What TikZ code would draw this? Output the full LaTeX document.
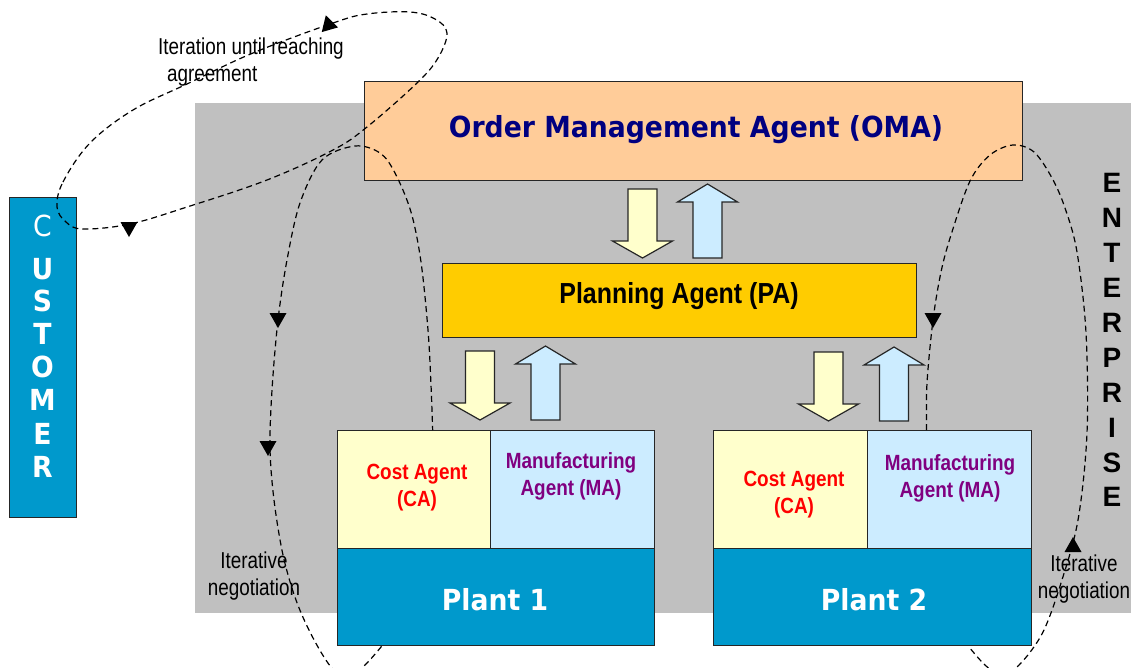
\documentclass[tikz,border=0pt]{standalone}
\usepackage{fontspec}
\setmainfont{Liberation Sans}
\newfontfamily\tahoma{DejaVu Sans}[FakeStretch=0.92]
\newfontfamily\narrowbold{Liberation Sans}[FakeStretch=0.86]
\newfontfamily\narrow{Liberation Sans}[FakeStretch=0.82]
\usetikzlibrary{calc}

\definecolor{entgray}{HTML}{C0C0C0}
\definecolor{omafill}{HTML}{FFCC99}
\definecolor{omatext}{HTML}{000080}
\definecolor{pafill}{HTML}{FFCC00}
\definecolor{cafill}{HTML}{FFFFCC}
\definecolor{mafill}{HTML}{CCECFF}
\definecolor{plantblue}{HTML}{0099CC}
\definecolor{matext}{HTML}{800080}
\definecolor{catext}{HTML}{FF0000}

\tikzset{
  box/.style={draw=black!85, line width=1.3pt, inner sep=0pt, anchor=north west},
  blockarrow/.style={draw=black!85, line width=1.2pt, line join=miter},
  loopline/.style={draw=black, line width=1.2pt, dash pattern=on 6pt off 4pt},
  tri/.pic={\fill[black] (-8.5,-7) -- (8.5,-7) -- (0,8) -- cycle;},
  downblock/.pic={\draw[blockarrow, fill=cafill] (-14.5,0) -- (14.5,0) -- (14.5,52)
      -- (30,52) -- (0,69) -- (-30,52) -- (-14.5,52) -- cycle;},
  upblock/.pic={\draw[blockarrow, fill=mafill] (-14.5,0) -- (14.5,0) -- (14.5,-56)
      -- (30,-56) -- (0,-74) -- (-30,-56) -- (-14.5,-56) -- cycle;},
  custletter/.style={text=white, inner sep=0pt, font=\tahoma\bfseries\fontsize{29pt}{30pt}\selectfont},
  entletter/.style={text=black, inner sep=0pt, font=\bfseries\fontsize{28pt}{30pt}\selectfont},
  agentlbl/.style={align=center, inner sep=0pt, font=\narrowbold\bfseries\fontsize{22pt}{27pt}\selectfont},
  note/.style={align=center, inner sep=0pt, font=\narrow\fontsize{23pt}{27pt}\selectfont},
}

\begin{document}
\begin{tikzpicture}[x=1pt, y=-1pt]
\useasboundingbox (0,0) rectangle (1131,667);

% enterprise background
\node[fill=entgray, inner sep=0pt, anchor=north west, minimum width=936pt, minimum height=510pt] (ent) at (195,103) {};

% agent boxes
\node[box, fill=omafill, minimum width=658pt, minimum height=99pt] (oma) at (364,81) {};
\node[box, fill=pafill, minimum width=474pt, minimum height=74pt] (pa) at (442,263) {};
\node[box, fill=cafill, minimum width=153pt, minimum height=118pt] (ca1) at (337,430) {};
\node[box, fill=mafill, minimum width=164pt, minimum height=118pt] (ma1) at (490,430) {};
\node[box, fill=plantblue, minimum width=317pt, minimum height=97pt] (plant1) at (337,548) {};
\node[box, fill=cafill, minimum width=154pt, minimum height=118pt] (ca2) at (713,430) {};
\node[box, fill=mafill, minimum width=164pt, minimum height=118pt] (ma2) at (867,430) {};
\node[box, fill=plantblue, minimum width=318pt, minimum height=97pt] (plant2) at (713,548) {};
\node[box, fill=plantblue, minimum width=67pt, minimum height=320pt] (cust) at (9,197) {};

% box labels
\node[inner sep=0pt, text=omatext, font=\tahoma\bfseries\fontsize{29pt}{30pt}\selectfont] (omalbl) at (696,130) {Order Management Agent (OMA)};
\node[inner sep=0pt, font=\narrowbold\bfseries\fontsize{29pt}{30pt}\selectfont] (palbl) at (679,296) {Planning Agent (PA)};
\node[agentlbl, text=catext] (ca1lbl) at (417,488) {Cost Agent\\(CA)};
\node[agentlbl, text=matext] (ma1lbl) at (571,476) {Manufacturing\\Agent (MA)};
\node[agentlbl, text=catext] (ca2lbl) at (794,495) {Cost Agent\\(CA)};
\node[agentlbl, text=matext] (ma2lbl) at (950,478) {Manufacturing\\Agent (MA)};
\node[inner sep=0pt, text=white, font=\tahoma\bfseries\fontsize{29pt}{30pt}\selectfont] (p1lbl) at (495,600) {Plant 1};
\node[inner sep=0pt, text=white, font=\tahoma\bfseries\fontsize{29pt}{30pt}\selectfont] (p2lbl) at (874,600) {Plant 2};

% vertical side labels
\node[custletter, font=\tahoma\mdseries\fontsize{29pt}{30pt}\selectfont] (custC) at (42.5,226) {C};
\foreach \ch/\yy [count=\i] in {U/269,S/301,T/334,O/367,M/400,E/434,R/467}
  \node[custletter] (cust\i) at (42.5,\yy) {\ch};
\foreach \ch/\yy [count=\i] in {E/183,N/218,T/253,E/288,R/323,P/358,R/393,I/428,S/463,E/497}
  \node[entletter] (ent\i) at (1112,\yy) {\ch};

% block arrows between agent levels
\pic at (642.5,189) {downblock};
\pic at (707.5,258) {upblock};
\pic at (480,351) {downblock};
\pic at (545.5,420) {upblock};
\pic at (828.5,352) {downblock};
\pic at (894,421) {upblock};

% negotiation loops
\coordinate (l1s) at ($(plant1.south west)!0.14!(plant1.south east)$);
\coordinate (l1e) at ($(ca1.north west)!0.62!(ca1.north east)$);
\draw[loopline] plot[smooth, tension=0.55] coordinates {
  (l1s) (366,664) (348,678) (331,667) (312,636) (296,600) (283,555) (274,500)
  (270,448) (272,390) (278,320) (287,260) (300,203) (322,160) (355,146)
  (380,153) (395,173) (411,212) (421,262) (428,330) (431,385) (l1e)};

\coordinate (l2s) at ($(ma2.north west)!0.36!(ma2.north east)$);
\coordinate (l2e) at ($(plant2.south west)!0.8!(plant2.south east)$);
\draw[loopline] plot[smooth, tension=0.55] coordinates {
  (l2s) (927,383) (933,320) (941,272) (951,235) (970,181) (990,155) (1013,145)
  (1034,152) (1052,178) (1065,208) (1077,252) (1086,333) (1087,433) (1078,520)
  (1061,583) (1043,632) (1021,663) (1002,676) (985,665) (l2e)};

% customer/enterprise agreement loop
\draw[loopline] plot[smooth cycle, tension=0.6] coordinates {
  (57,207) (63,182) (90,143) (133,110) (187,84) (253,53) (333,23) (367,14)
  (410,12) (435,19) (447,33) (438,58) (417,83) (367,127) (333,150) (267,180)
  (187,207) (130,224) (83,229) (66,222)};

% arrowheads on the loops
\pic at (278,320) {tri};
\pic at (268,448) {tri};
\pic at (933,320) {tri};
\pic[rotate=180] at (1073,545) {tri};
\pic at (129,229) {tri};
\pic[rotate=196] at (328,23) {tri};

% annotations
\node[note, align=left, anchor=west] (iterlbl) at (158,62) {Iteration until reaching\\\hspace*{9pt}agreement};
\node[note] (neg1) at (254,576) {Iterative\\negotiation};
\node[note] (neg2) at (1084,579) {Iterative\\negotiation};
\end{tikzpicture}
\end{document}
